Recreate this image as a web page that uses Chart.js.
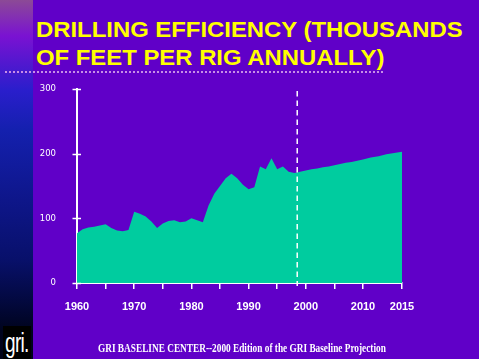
<!DOCTYPE html>
<html>
<head>
<meta charset="utf-8">
<script src="https://cdn.jsdelivr.net/npm/chart.js@4"></script>
<style>
    body { margin: 0; width: 479px; height: 359px; overflow: hidden; position: relative; background: #6000C8; font-family: 'Liberation Sans', Arial, sans-serif; }
    #strip { position: absolute; left: 0; top: 0; width: 33px; height: 359px;
        background: linear-gradient(to bottom, #8C4A96 0px, #7A12D2 36px, #2A1ECC 90px, #1420AE 130px, #0E168A 200px, #08106A 260px, #030940 300px, #00041E 330px, #00031A 359px); }
    #logo { position: absolute; left: 3px; top: 326px; width: 28px; height: 33px; background: #000; overflow: hidden; }
    #logo span { position: absolute; left: 2px; top: 1px; color: #fff; font: 28px 'Liberation Sans', sans-serif; line-height: normal; letter-spacing: -1px; transform: scaleX(0.68); transform-origin: left top; }
    #title { position: absolute; left: 36px; top: 15.5px; color: #FFFF00; font: bold 22px 'Liberation Sans', Arial, sans-serif; line-height: 28.4px; white-space: nowrap; transform: scaleX(1.085); transform-origin: left top; }
    #dots { position: absolute; left: 5px; top: 71px; width: 378px; height: 2px;
        background: repeating-linear-gradient(to right, #C78FE6 0 2px, transparent 2px 4px); }
    #chart { position: absolute; left: 0; top: 0; }
    #footer { position: absolute; left: 98px; top: 342px; color: #fff; font: bold 12px 'Liberation Serif', 'Times New Roman', serif; line-height: 12px; white-space: nowrap; transform-origin: left top; }
</style>
</head>
<body>
<div id="strip"></div>
<div id="logo"><span>gri.</span></div>
<div id="title">DRILLING EFFICIENCY (THOUSANDS<br>OF FEET PER RIG ANNUALLY)</div>
<div id="dots"></div>
<canvas id="chart" width="479" height="359"></canvas>
<div id="footer"><span id="footerText">GRI BASELINE CENTER--2000 Edition of the GRI Baseline Projection</span></div>
<script>
// Data (thousands of feet per rig per year)
const YEARS = [1960, 1961, 1962, 1963, 1964, 1965, 1966, 1967, 1968, 1969,
               1970, 1971, 1972, 1973, 1974, 1975, 1976, 1977, 1978, 1979,
               1980, 1981, 1982, 1983, 1984, 1985, 1986, 1987, 1988, 1989,
               1990, 1991, 1992, 1993, 1994, 1995, 1996, 1997, 1998, 1999,
               2000, 2001, 2002, 2003, 2004, 2005, 2006, 2007, 2008, 2009,
               2010, 2011, 2012, 2013, 2014, 2015];
const EFFICIENCY = [77, 83, 86, 87, 89, 91, 85, 81, 80, 82,
                    110, 107, 103, 95, 85, 92, 96, 97, 94, 95,
                    100, 97, 94, 120, 138, 150, 162, 169, 162, 152,
                    145, 148, 180, 176, 193, 176, 180, 172, 170, 172,
                    174, 176, 177, 179, 180, 182, 184, 186, 187, 189,
                    191, 194, 196, 199, 201, 203];
const Y_TICKS = [0, 100, 200, 300];
const X_TICK_LABELS = ['1960', '1970', '1980', '1990', '2000', '2010', '2015'];
const PROJECTION_START = 1998.5;

// the original axis gives the last five years more room than the others
const BREAK_YEAR = 2010;
const BREAK_FRAC = 0.88;

class BrokenYearScale extends Chart.LinearScale {
    getPixelForValue(value) {
        if (value === null || value === undefined || isNaN(value)) return NaN;
        const lo = this.min, hi = this.max;
        const d = value <= BREAK_YEAR
            ? (value - lo) / (BREAK_YEAR - lo) * BREAK_FRAC
            : BREAK_FRAC + (value - BREAK_YEAR) / (hi - BREAK_YEAR) * (1 - BREAK_FRAC);
        return this.getPixelForDecimal(d);
    }
    getValueForPixel(pixel) {
        const d = this.getDecimalForPixel(pixel);
        const lo = this.min, hi = this.max;
        return d <= BREAK_FRAC
            ? lo + d / BREAK_FRAC * (BREAK_YEAR - lo)
            : BREAK_YEAR + (d - BREAK_FRAC) / (1 - BREAK_FRAC) * (hi - BREAK_YEAR);
    }
}
BrokenYearScale.id = 'brokenYear';
BrokenYearScale.defaults = Chart.LinearScale.defaults;
Chart.register(BrokenYearScale);

// y ticks cross the axis, plus the dashed projection divider
const overlayPlugin = {
    id: 'overlay',
    afterDatasetsDraw(chart) {
        const { ctx, chartArea, scales: { x, y } } = chart;
        ctx.save();
        ctx.strokeStyle = '#FFFFFF';
        ctx.lineWidth = 1.5;
        Y_TICKS.forEach(v => {
            const py = Math.round(y.getPixelForValue(v)) + 0.5;
            ctx.beginPath();
            ctx.moveTo(chartArea.left - 4.5, py);
            ctx.lineTo(chartArea.left + 4, py);
            ctx.stroke();
        });
        const px = x.getPixelForValue(PROJECTION_START);
        ctx.setLineDash([5.5, 4]);
        ctx.beginPath();
        ctx.moveTo(px, chartArea.top + 2);
        ctx.lineTo(px, chartArea.bottom + 3);
        ctx.stroke();
        ctx.restore();
    }
};

new Chart(document.getElementById('chart'), {
    type: 'line',
    data: {
        datasets: [{
            data: YEARS.map((yr, i) => ({ x: yr, y: EFFICIENCY[i] })),
            fill: 'origin',
            backgroundColor: '#00CC9F',
            borderWidth: 0,
            pointRadius: 0,
            tension: 0
        }]
    },
    options: {
        responsive: false,
        animation: false,
        layout: { padding: { left: 0, right: 77, top: 89, bottom: 0 } },
        plugins: { legend: { display: false }, tooltip: { enabled: false } },
        scales: {
            x: {
                type: 'brokenYear',
                min: 1960,
                max: 2015,
                afterFit: s => { s.height = 76; },
                grid: { display: true, drawOnChartArea: false, drawTicks: true, tickLength: 6, color: '#FFFFFF', lineWidth: 1.5 },
                border: { display: true, color: '#FFFFFF', width: 2 },
                ticks: {
                    stepSize: 5,
                    autoSkip: false,
                    maxRotation: 0,
                    padding: 11,
                    color: '#FFFFFF',
                    font: { family: "'Liberation Sans', Arial, sans-serif", size: 11, weight: 'bold' },
                    callback: v => X_TICK_LABELS.includes(String(v)) ? String(v) : ''
                }
            },
            y: {
                min: 0,
                max: 300,
                afterFit: s => { s.width = 77; },
                afterBuildTicks: s => { s.ticks = Y_TICKS.map(v => ({ value: v })); },
                grid: { display: false },
                border: { display: true, color: '#FFFFFF', width: 2 },
                ticks: {
                    padding: 13,
                    color: '#FFFFFF',
                    font: { family: "'DejaVu Sans', sans-serif", size: 8.5 }
                }
            }
        }
    },
    plugins: [overlayPlugin]
});

// squeeze the footer to the width it has in the slide
const footerText = document.getElementById('footerText');
const footer = document.getElementById('footer');
footer.style.transform = 'scaleX(' + (288 / footerText.offsetWidth) + ')';
</script>
</body>
</html>
